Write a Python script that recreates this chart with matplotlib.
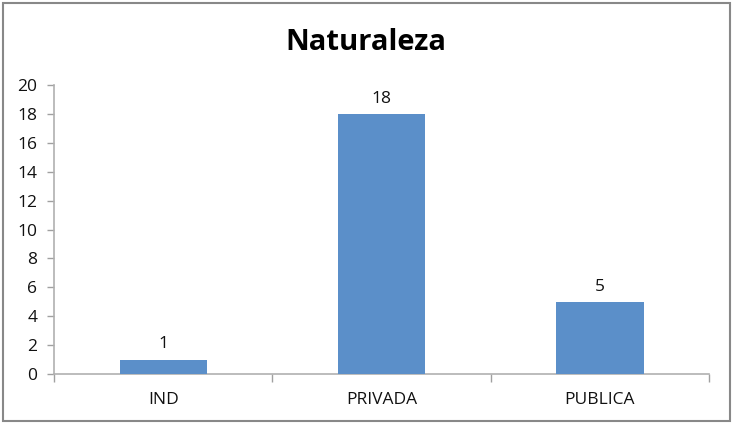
import matplotlib
matplotlib.use("Agg")
import matplotlib.pyplot as plt
from matplotlib.patches import Rectangle

categories = ["IND", "PRIVADA", "PUBLICA"]
values = [1, 18, 5]
yticks = [0, 2, 4, 6, 8, 10, 12, 14, 16, 18, 20]
title = "Naturaleza"

plt.rcParams['font.family'] = ['Open Sans', 'DejaVu Sans']

fig = plt.figure(figsize=(7.33, 4.24), dpi=100)
ax = fig.add_axes([54/733, 50/424, 655/733, 289/424])

x = list(range(len(categories)))
ax.bar(x, values, width=0.4, color="#5B8FC9", zorder=3)
for xi, v in zip(x, values):
    ax.text(xi, v + 0.5, str(v), ha="center", va="bottom", fontsize=12.5, color="#111111")

ax.set_xlim(-0.5, len(categories) - 0.5)
ax.set_ylim(0, 20)
ax.set_yticks(yticks)
ax.set_yticklabels([str(t) for t in yticks], fontsize=12.5, color="#111111")
ax.set_xticks(x)
ax.set_xticklabels(categories, fontsize=12.5, color="#111111")
ax.tick_params(axis="x", length=0, pad=13)
ax.tick_params(axis="y", length=5, color="#A0A0A0", width=1, pad=7)
ax.set_xticks([-0.5, 0.5, 1.5, 2.5], minor=True)
ax.tick_params(axis="x", which="minor", length=6, color="#A0A0A0", width=1, direction="out")
for s in ["top", "right"]:
    ax.spines[s].set_visible(False)
for s in ["left", "bottom"]:
    ax.spines[s].set_color("#B0B0B0")
    ax.spines[s].set_linewidth(1.2)

fig.text(366/733, 1 - 42/424, title, ha="center", va="center", fontsize=21, fontweight="bold", color="#000000")

fig.patches.append(Rectangle((3/733, 3/424), 727/733, 418/424, transform=fig.transFigure,
                             fill=False, edgecolor="#888888", linewidth=1.5))

fig.savefig("out.png", dpi=100)
